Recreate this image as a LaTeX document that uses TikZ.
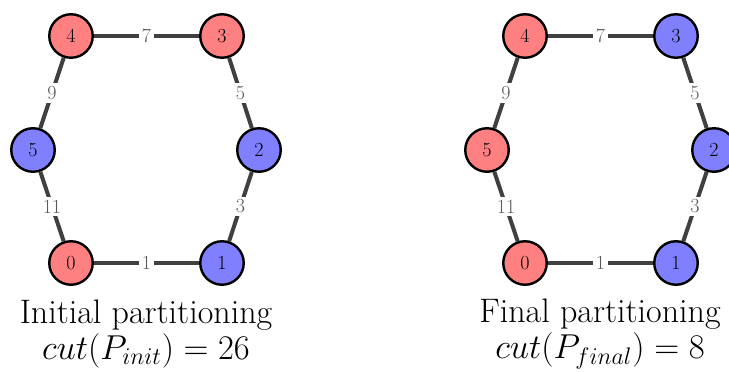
\documentclass[tikz,border=0pt]{standalone}
\begin{document}
\begin{tikzpicture}[x=1pt,y=1pt,
  vertex/.style={circle,draw=black,line width=2.4pt,minimum size=43.5pt,inner sep=0pt,
    font=\fontsize{20}{20}\selectfont},
  redv/.style={vertex,fill=red!50},
  bluev/.style={vertex,fill=blue!50},
  edge/.style={draw=black!75,line width=4pt},
  weight/.style={fill=white,text=black!65,inner sep=3pt,font=\fontsize{20}{20}\selectfont},
  caption/.style={align=center,scale=2,transform shape,font=\fontsize{17}{18}\selectfont}]
\useasboundingbox (0,0) rectangle (729,372);

% initial partitioning
\node[redv]  (L4) at (71,336)  {4};
\node[redv]  (L3) at (222,336) {3};
\node[bluev] (L5) at (33,222)  {5};
\node[bluev] (L2) at (259,222) {2};
\node[redv]  (L0) at (71,109)  {0};
\node[bluev] (L1) at (222,109) {1};
\draw[edge] (L4) -- node[weight] {7}  (L3);
\draw[edge] (L3) -- node[weight] {5}  (L2);
\draw[edge] (L2) -- node[weight] {3}  (L1);
\draw[edge] (L1) -- node[weight] {1}  (L0);
\draw[edge] (L0) -- node[weight] {11} (L5);
\draw[edge] (L5) -- node[weight] {9}  (L4);
\node[caption] (capL) at (146,38) {Initial partitioning\\ $cut(P_{init}) = 26$};

% final partitioning
\node[redv]  (R4) at (525,336) {4};
\node[bluev] (R3) at (676,336) {3};
\node[redv]  (R5) at (487,222) {5};
\node[bluev] (R2) at (714,222) {2};
\node[redv]  (R0) at (525,109) {0};
\node[bluev] (R1) at (676,109) {1};
\draw[edge] (R4) -- node[weight] {7}  (R3);
\draw[edge] (R3) -- node[weight] {5}  (R2);
\draw[edge] (R2) -- node[weight] {3}  (R1);
\draw[edge] (R1) -- node[weight] {1}  (R0);
\draw[edge] (R0) -- node[weight] {11} (R5);
\draw[edge] (R5) -- node[weight] {9}  (R4);
\node[caption] (capR) at (600,38) {Final partitioning\\ $cut(P_{final}) = 8$};
\end{tikzpicture}
\end{document}
